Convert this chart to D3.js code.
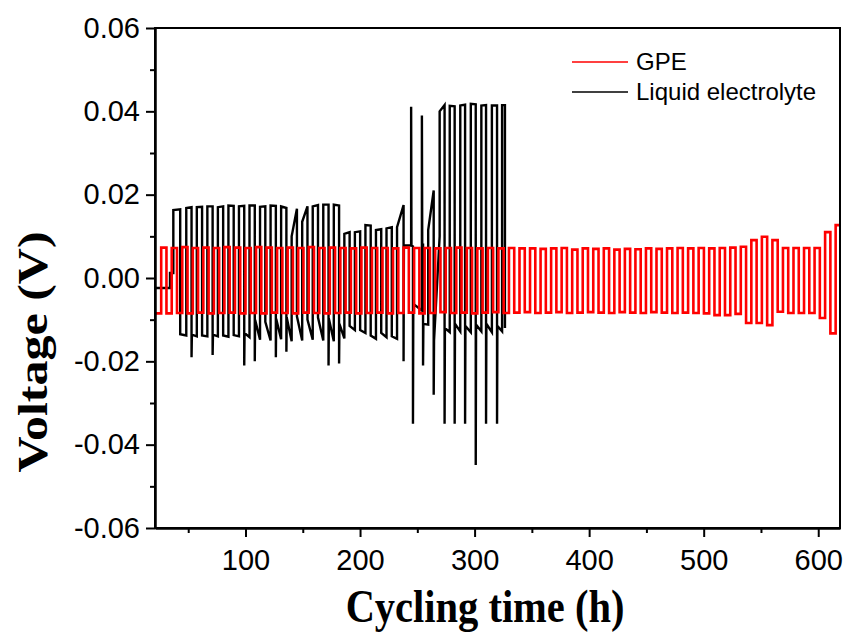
<!DOCTYPE html>
<html>
<head>
<meta charset="utf-8">
<script src="https://cdn.jsdelivr.net/npm/d3@7/dist/d3.min.js"></script>
<style>
  body { margin: 0; background: #fff; }
  svg { display: block; }
</style>
</head>
<body>
<div class="chart-container"></div>
<script>
// axis ticks
const xTicks = [100, 200, 300, 400, 500, 600];
const xMinorTicks = [50, 150, 250, 350, 450, 550];
const yTicks = [-0.06, -0.04, -0.02, 0.00, 0.02, 0.04, 0.06];
const yMinorTicks = [-0.05, -0.03, -0.01, 0.01, 0.03, 0.05];

// GPE: fixed-time cycling, levels of each half cycle (V)
const gpeStart = 21, gpeLead = -0.0085;
const gpeFirstSwitch = 26.4, gpeHalfCycle = 4.6;   // h
const gpeHigh = [
  0.0073, 0.0072, 0.0074, 0.0072, 0.0073, 0.0072, 0.0074, 0.0073, 0.0072, 0.0074,
  0.0073, 0.0072, 0.0073, 0.0072, 0.0074, 0.0072, 0.0073, 0.0072, 0.0071, 0.0073,
  0.0072, 0.0072, 0.0071, 0.0073, 0.0072, 0.0072, 0.0071, 0.0072, 0.0073, 0.0072,
  0.0071, 0.0072, 0.0071, 0.0072, 0.0071, 0.0071, 0.0070, 0.0071, 0.0072, 0.0068,
  0.0071, 0.0070, 0.0071, 0.0068, 0.0070, 0.0069, 0.0071, 0.0070, 0.0071, 0.0072,
  0.0071, 0.0072, 0.0071, 0.0072, 0.0073, 0.0075, 0.0091, 0.0099, 0.0091, 0.0072,
  0.0072, 0.0072, 0.0072, 0.0110, 0.0127
];
const gpeLow = [
  -0.0085, -0.0084, -0.0085, -0.0083, -0.0085, -0.0084, -0.0083, -0.0085, -0.0084, -0.0085,
  -0.0083, -0.0084, -0.0085, -0.0083, -0.0084, -0.0085, -0.0084, -0.0083, -0.0085, -0.0084,
  -0.0083, -0.0085, -0.0084, -0.0083, -0.0085, -0.0084, -0.0082, -0.0084, -0.0083, -0.0085,
  -0.0083, -0.0082, -0.0084, -0.0083, -0.0082, -0.0084, -0.0083, -0.0082, -0.0084, -0.0083,
  -0.0082, -0.0083, -0.0084, -0.0082, -0.0083, -0.0084, -0.0082, -0.0083, -0.0084, -0.0083,
  -0.0084, -0.0085, -0.0089, -0.0089, -0.0086, -0.0108, -0.0108, -0.0113, -0.0081, -0.0084,
  -0.0084, -0.0084, -0.0096, -0.0133, -0.0135
];

// Liquid electrolyte
const liqLeadTime = [21, 34.1, 34.1, 37];
const liqLeadV = [-0.0024, -0.0024, 0.0012, 0.0012];
const liqRise = [37.0, 48.3, 57.5, 66.7, 75.9, 85.1, 94.3, 103.5, 112.7, 121.9,
  131.1, 140.3, 149.5, 158.7, 167.9, 177.1, 186.3, 195.5, 204.7, 213.9,
  223.1, 232.3, 244.6, 254.0, 259.5, 269.5, 278.3, 287.5, 296.7, 305.9, 315.1, 324.0];
const liqDrop = [43.0, 52.9, 62.1, 71.3, 80.5, 89.7, 98.9, 108.1, 117.3, 126.5,
  135.7, 144.9, 154.1, 163.3, 172.5, 181.7, 190.9, 200.1, 209.3, 218.5,
  227.7, 238.0, 246.2, 255.0, 264.3, 273.8, 282.6, 291.7, 301.0, 310.0, 319.6, 326.5];
const liqHigh = [0.0163, 0.0168, 0.0170, 0.0172, 0.0170, 0.0174, 0.0172, 0.0174, 0.0171, 0.0174,
  0.0172, 0.0100, 0.0135, 0.0172, 0.0176, 0.0176, 0.0106, 0.0110, 0.0127, 0.0115,
  0.0119, 0.0122, 0.0078, 0.0080, 0.0115, 0.0400, 0.0413, 0.0414, 0.0418, 0.0414, 0.0414, 0.0415];
const liqHighEnd = [0.0165, 0.0170, 0.0171, 0.0172, 0.0172, 0.0173, 0.0173, 0.0174, 0.0172, 0.0173,
  0.0168, 0.0166, 0.0172, 0.0175, 0.0176, 0.0174, 0.0110, 0.0112, 0.0126, 0.0117,
  0.0122, 0.0175, 0.0076, 0.0080, 0.0210, 0.0415, 0.0412, 0.0416, 0.0417, 0.0415, 0.0414, 0.0415];
const liqLow = [-0.0135, -0.0136, -0.0138, -0.0136, -0.0138, -0.0137, -0.0132, -0.0100, -0.0105, -0.0098,
  -0.0095, -0.0092, -0.0100, -0.0095, -0.0098, -0.0110, -0.0115, -0.0125, -0.0138, -0.0132,
  -0.0140, 0.0078, -0.0062, -0.0110, -0.0150, -0.0120, -0.0110, -0.0115, -0.0112, -0.0110, -0.0115, -0.0120];
const liqLowEnd = [-0.0138, -0.0140, -0.0140, -0.0140, -0.0141, -0.0140, -0.0142, -0.0148, -0.0150, -0.0147,
  -0.0152, -0.0150, -0.0148, -0.0150, -0.0152, -0.0145, -0.0125, -0.0132, -0.0146, -0.0142,
  -0.0146, 0.0078, -0.0078, -0.0112, 0.0100, -0.0130, -0.0128, -0.0130, -0.0128, -0.0130, -0.0128, -0.0120];
const liqSpikeUp = [null, null, null, null, null, null, null, null, null, null,
  null, null, null, null, null, null, null, null, null, null,
  null, null, 0.0411, 0.0390, null, null, null, null, null, null, null, null];
const liqSpikeDown = [null, -0.0190, null, -0.0185, null, null, -0.0210, -0.0200, null, -0.0190,
  -0.0177, null, null, null, -0.0210, -0.0205, null, null, null, null,
  null, -0.0200, -0.0350, -0.0210, -0.0280, -0.0350, -0.0350, -0.0350, -0.0449, -0.0350, -0.0350, null];

const seriesNames = ["GPE", "Liquid electrolyte"];
const seriesColors = ["#ff0000", "#000000"];

function gpePoints() {
  const pts = [[gpeStart, gpeLead], [gpeFirstSwitch, gpeLead]];
  gpeHigh.forEach((hi, k) => {
    const t0 = gpeFirstSwitch + k * 2 * gpeHalfCycle;
    const t1 = t0 + gpeHalfCycle;
    const t2 = t1 + gpeHalfCycle;
    pts.push([t0, hi], [t1, hi], [t1, gpeLow[k]], [t2, gpeLow[k]]);
  });
  return pts;
}

function liquidPoints() {
  const pts = liqLeadTime.map((t, i) => [t, liqLeadV[i]]);
  liqRise.forEach((r, k) => {
    const d = liqDrop[k];
    const next = k + 1 < liqRise.length ? liqRise[k + 1] : d;
    if (liqSpikeUp[k] !== null) {
      pts.push([r, liqSpikeUp[k]], [r + 0.3, liqHigh[k]]);
    } else {
      pts.push([r, liqHigh[k]]);
    }
    pts.push([d, liqHighEnd[k]]);
    if (liqSpikeDown[k] !== null) {
      pts.push([d, liqSpikeDown[k]], [d + 0.3, liqLow[k]]);
    } else {
      pts.push([d, liqLow[k]]);
    }
    if (next > d) pts.push([next, liqLowEnd[k]]);
  });
  return pts;
}

const width = 852, height = 635;
const margin = {left: 155, right: 12, top: 28, bottom: 107};
const plotW = width - margin.left - margin.right;
const plotH = height - margin.top - margin.bottom;

const svg = d3.select(".chart-container").append("svg")
  .attr("width", width)
  .attr("height", height);

const x = d3.scaleLinear().domain([21, 619]).range([margin.left, margin.left + plotW]);
const y = d3.scaleLinear().domain([-0.06, 0.06]).range([margin.top + plotH, margin.top]);

svg.append("clipPath").attr("id", "plot-clip")
  .append("rect")
  .attr("x", margin.left).attr("y", margin.top)
  .attr("width", plotW).attr("height", plotH);

const line = d3.line().x(d => x(d[0])).y(d => y(d[1]));

const plot = svg.append("g").attr("clip-path", "url(#plot-clip)");

// liquid electrolyte first, GPE drawn over it
plot.append("path")
  .attr("d", line(liquidPoints()))
  .attr("fill", "none")
  .attr("stroke", seriesColors[1])
  .attr("stroke-width", 2.4);

plot.append("path")
  .attr("d", line(gpePoints()))
  .attr("fill", "none")
  .attr("stroke", seriesColors[0])
  .attr("stroke-width", 2.6);

// frame
svg.append("rect")
  .attr("x", margin.left).attr("y", margin.top)
  .attr("width", plotW).attr("height", plotH)
  .attr("fill", "none")
  .attr("stroke", "#000")
  .attr("stroke-width", 2);

const tickFont = "'Liberation Sans', Arial, sans-serif";

// x axis
svg.append("g")
  .attr("transform", `translate(0,${margin.top + plotH})`)
  .call(d3.axisBottom(x).tickValues(xTicks).tickSize(9).tickSizeOuter(0).tickPadding(12)
    .tickFormat(d => String(d)));
svg.append("g")
  .attr("transform", `translate(0,${margin.top + plotH})`)
  .call(d3.axisBottom(x).tickValues(xMinorTicks).tickSize(5).tickSizeOuter(0).tickFormat(""));

// y axis
svg.append("g")
  .attr("transform", `translate(${margin.left},0)`)
  .call(d3.axisLeft(y).tickValues(yTicks).tickSize(9).tickSizeOuter(0).tickPadding(6)
    .tickFormat(d => (Math.abs(d) < 1e-9 ? 0 : d).toFixed(2)));
svg.append("g")
  .attr("transform", `translate(${margin.left},0)`)
  .call(d3.axisLeft(y).tickValues(yMinorTicks).tickSize(5).tickSizeOuter(0).tickFormat(""));

svg.selectAll(".domain").attr("stroke", "#000").attr("stroke-width", 2);
svg.selectAll(".tick line").attr("stroke", "#000").attr("stroke-width", 2);
svg.selectAll(".tick text")
  .attr("fill", "#000")
  .style("font-family", tickFont)
  .style("font-size", "29px");

// axis titles
svg.append("text")
  .attr("transform", "translate(485,622) scale(0.88,1)")
  .attr("text-anchor", "middle")
  .style("font-family", "'Liberation Serif', 'Times New Roman', serif")
  .style("font-weight", "bold")
  .style("font-size", "46px")
  .text("Cycling time (h)");

svg.append("text")
  .attr("transform", "translate(47,352) scale(0.84,1) rotate(-90)")
  .attr("text-anchor", "middle")
  .style("font-family", "'Liberation Serif', 'Times New Roman', serif")
  .style("font-weight", "bold")
  .style("font-size", "50px")
  .text("Voltage (V)");

// legend
const legend = svg.append("g");
seriesNames.forEach((name, i) => {
  const ly = 62 + i * 30;
  legend.append("line")
    .attr("x1", 572).attr("x2", 628)
    .attr("y1", ly).attr("y2", ly)
    .attr("stroke", seriesColors[i])
    .attr("stroke-width", 1.5);
  legend.append("text")
    .attr("x", 636).attr("y", ly + 8)
    .style("font-family", tickFont)
    .style("font-size", "24px")
    .attr("fill", "#000")
    .text(name);
});
</script>
</body>
</html>
